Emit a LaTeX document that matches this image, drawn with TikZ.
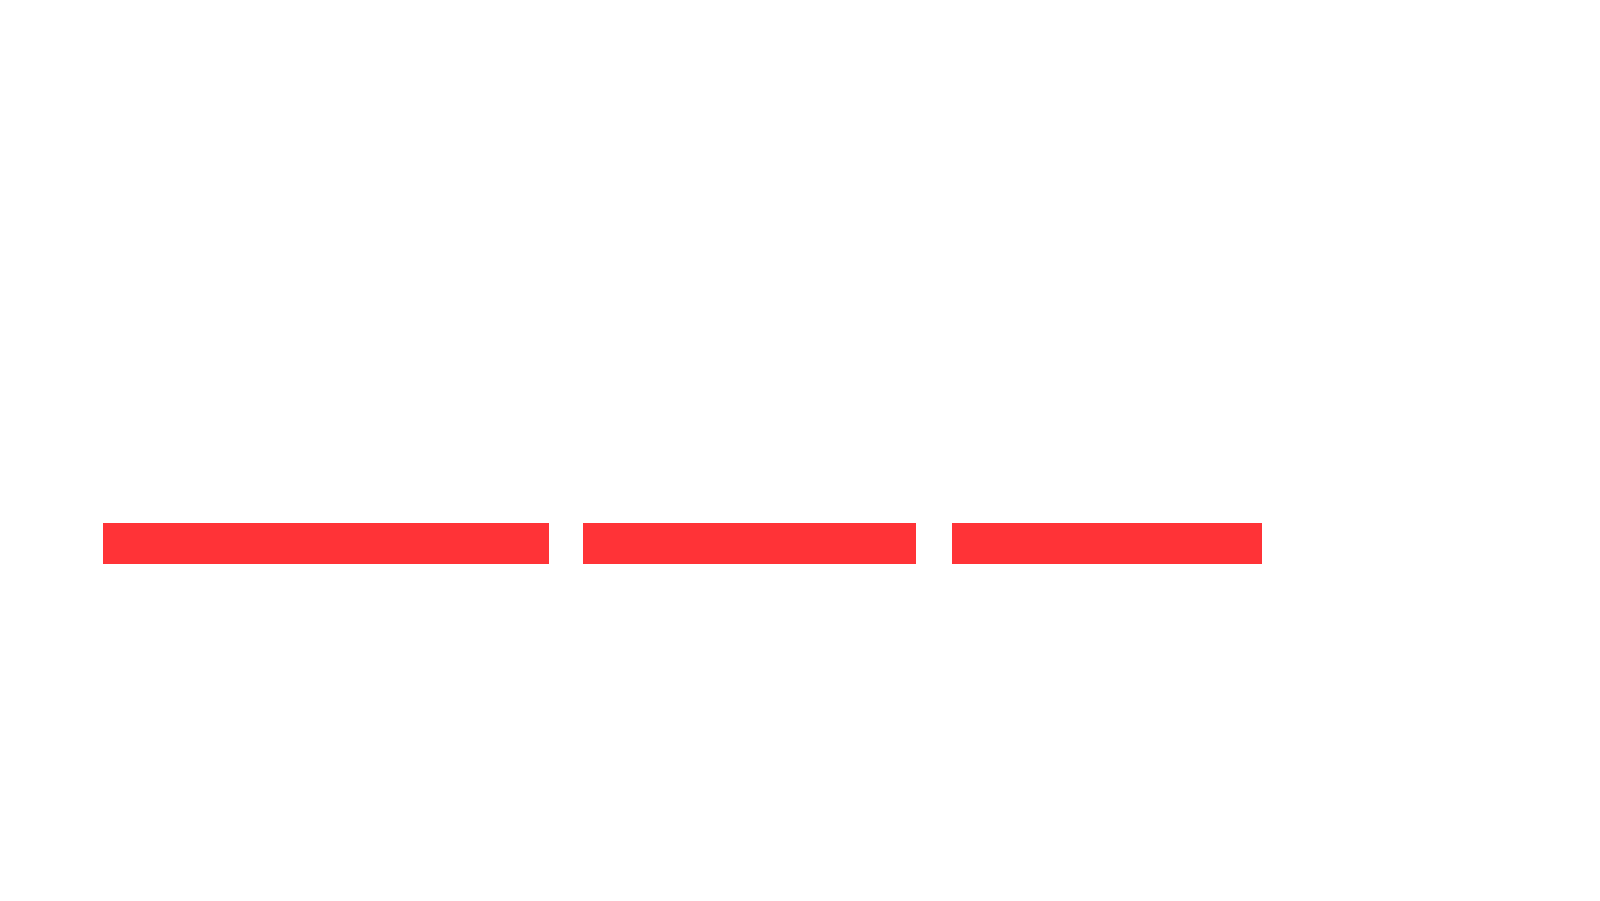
\documentclass[tikz,border=0pt]{standalone}
\begin{document}
\begin{tikzpicture}[x=0.010204cm,y=-0.010204cm]
\definecolor{barred}{RGB}{255,51,55}
\tikzset{bar/.style={fill=barred,draw=none,inner sep=0pt,anchor=north west,minimum height=0.408cm}}
\useasboundingbox (0,0) rectangle (1568,882);
\fill[white] (0,0) rectangle (1568,882);
\node[bar,minimum width=4.46cm] (b1) at (100,512) {};
\node[bar,minimum width=3.33cm] (b2) at (571,512) {};
\node[bar,minimum width=3.10cm] (b3) at (932,512) {};
\end{tikzpicture}
\end{document}
